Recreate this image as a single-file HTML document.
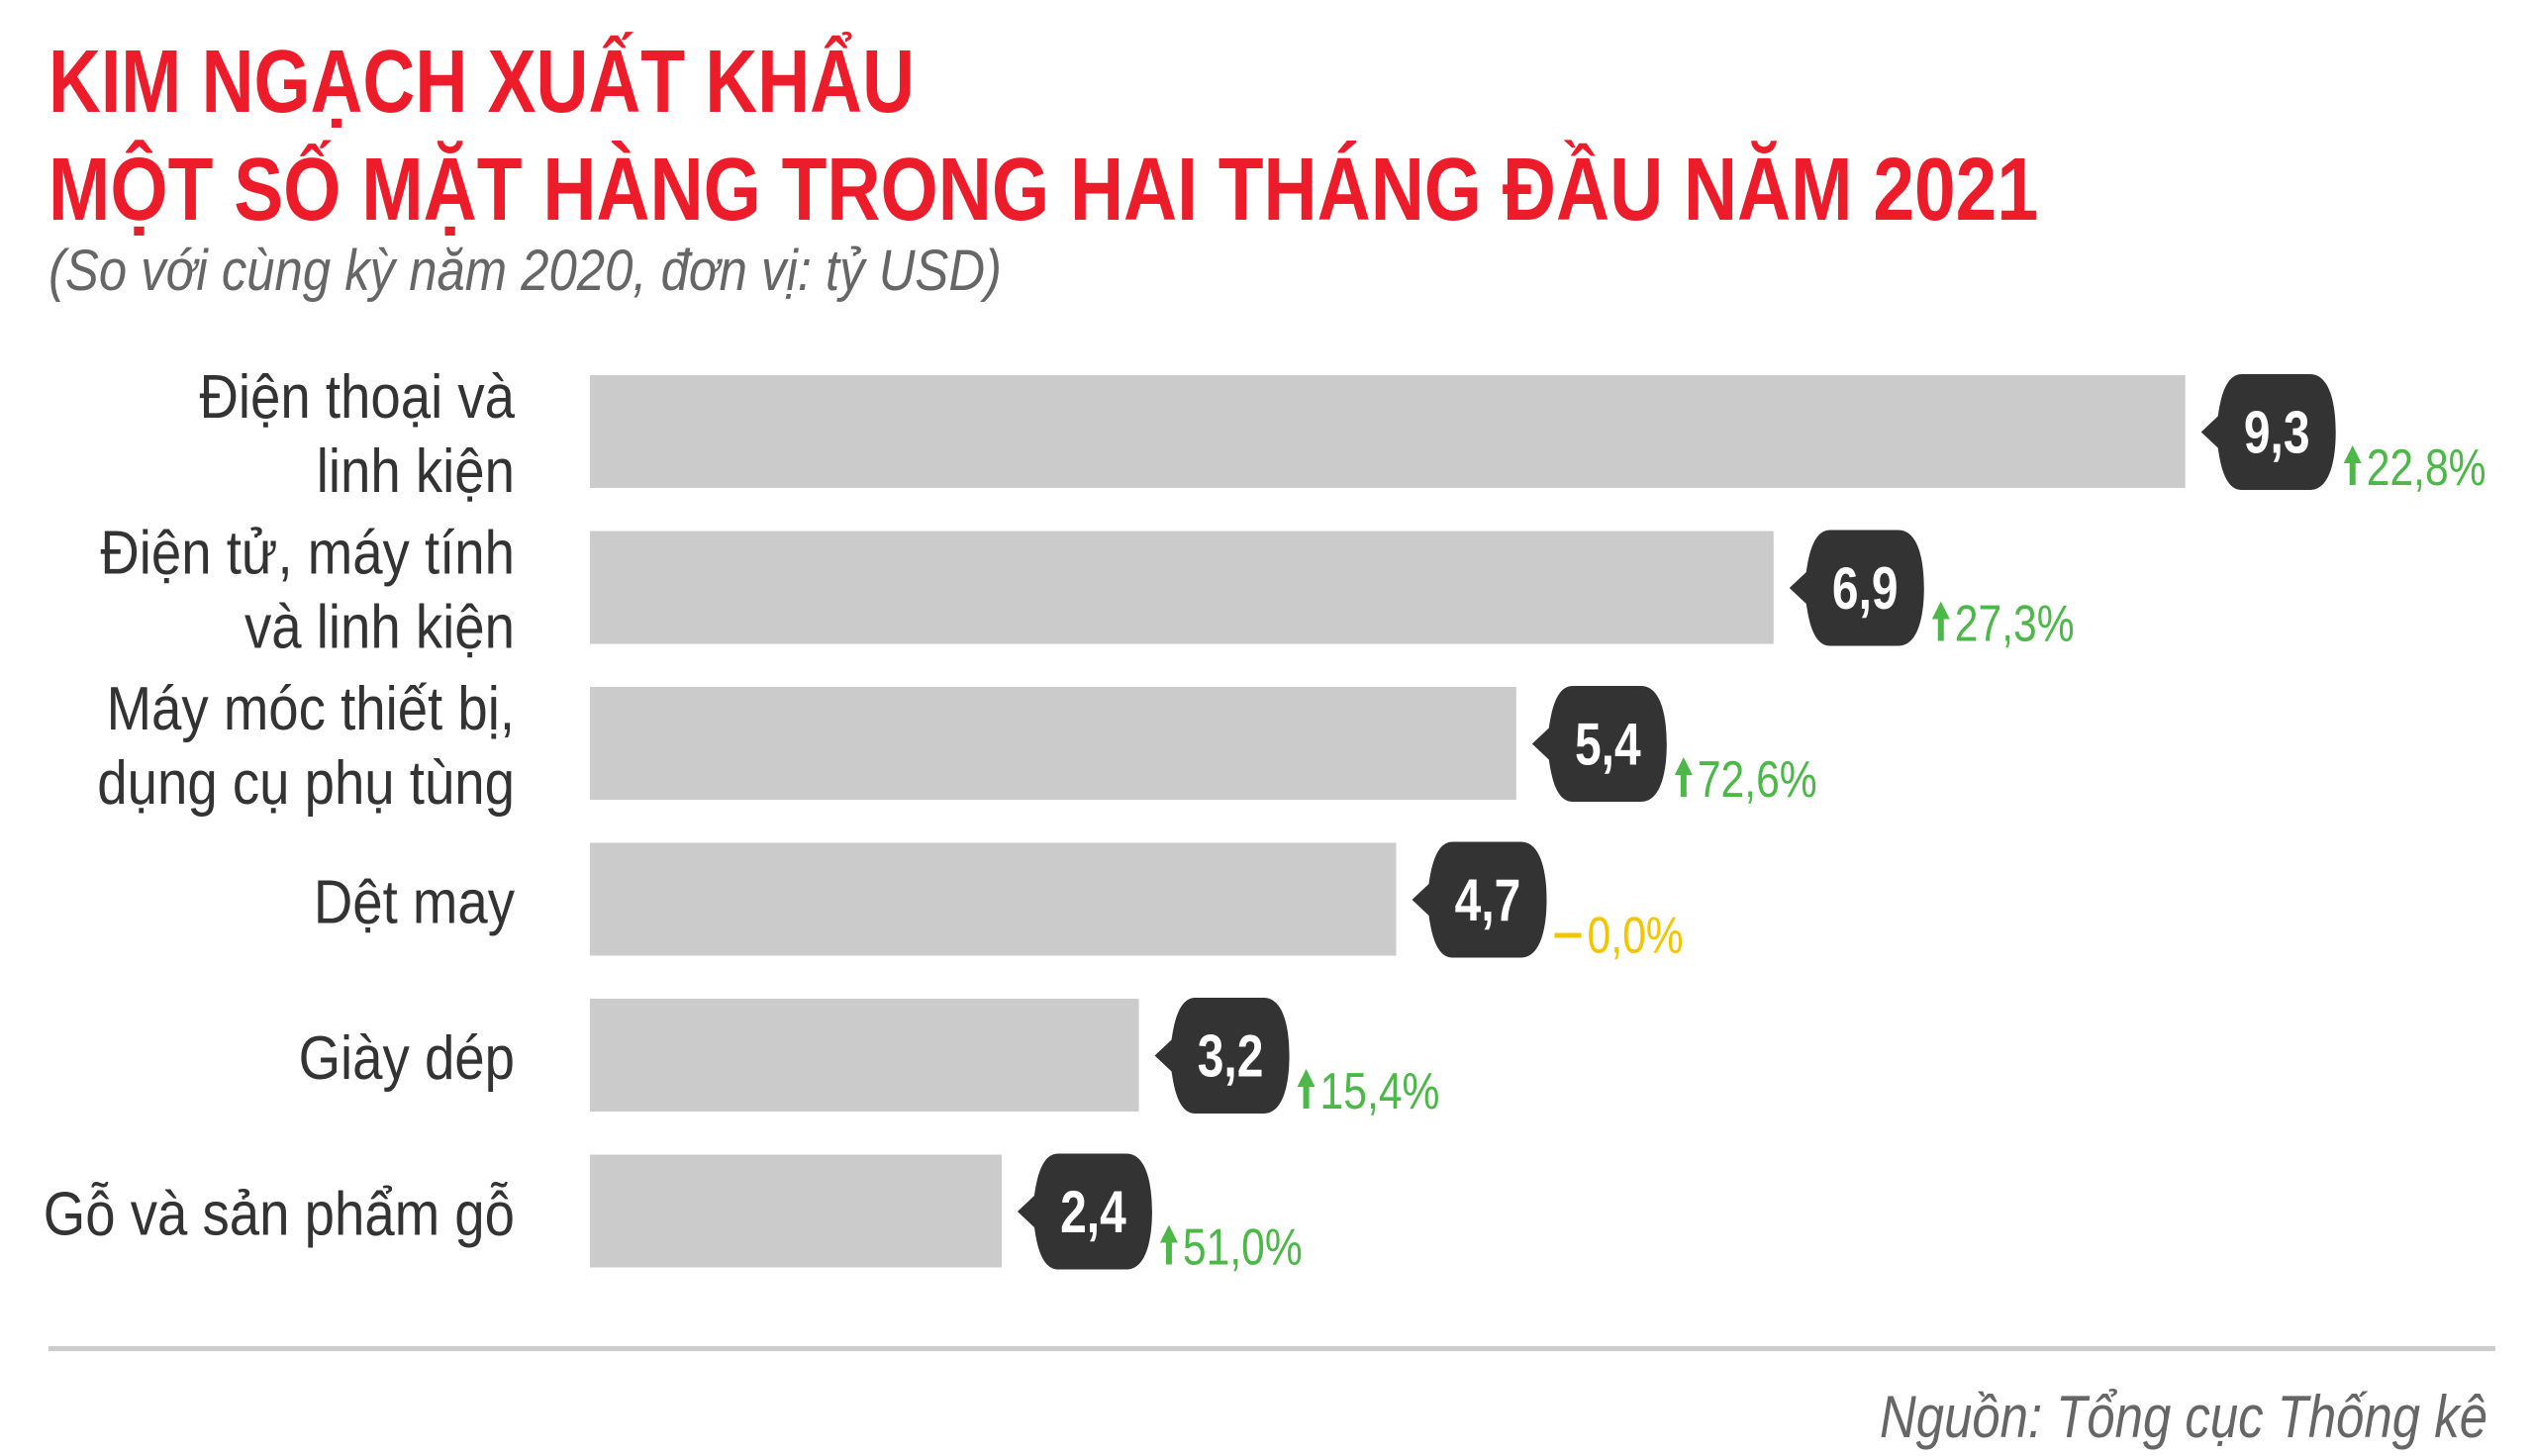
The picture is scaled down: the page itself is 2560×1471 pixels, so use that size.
<!DOCTYPE html>
<html><head><meta charset="utf-8">
<style>
html,body{margin:0;padding:0;background:#fff;}
svg{display:block;font-family:"Liberation Sans",sans-serif;}
</style></head>
<body>
<svg id="chart" width="2560" height="1471" viewBox="0 0 2560 1471" xmlns="http://www.w3.org/2000/svg">
  <text x="49" y="113" font-size="90" font-weight="bold" fill="#ec1c2b" textLength="875" lengthAdjust="spacingAndGlyphs">KIM NGẠCH XUẤT KHẨU</text>
  <text x="49" y="222" font-size="90" font-weight="bold" fill="#ec1c2b" textLength="2010" lengthAdjust="spacingAndGlyphs">MỘT SỐ MẶT HÀNG TRONG HAI THÁNG ĐẦU NĂM 2021</text>
  <text x="49" y="293" font-size="58" font-style="italic" fill="#666" textLength="963" lengthAdjust="spacingAndGlyphs">(So với cùng kỳ năm 2020, đơn vị: tỷ USD)</text>
  <g id="bars"></g>
  <rect x="49" y="1360" width="2472" height="5" fill="#cccccc"/>
  <text x="2513" y="1452" font-size="60" font-style="italic" fill="#666" text-anchor="end" textLength="614" lengthAdjust="spacingAndGlyphs">Nguồn: Tổng cục Thống kê</text>
</svg>
<script>
const categories = [["Điện thoại và","linh kiện"],["Điện tử, máy tính","và linh kiện"],["Máy móc thiết bị,","dụng cụ phụ tùng"],["Dệt may"],["Giày dép"],["Gỗ và sản phẩm gỗ"]];
const values = [9.3, 6.9, 5.4, 4.7, 3.2, 2.4];
const valueLabels = ["9,3","6,9","5,4","4,7","3,2","2,4"];
const changes = [22.8, 27.3, 72.6, 0.0, 15.4, 51.0];
const changeLabels = ["22,8%","27,3%","72,6%","0,0%","15,4%","51,0%"];

const NS = "http://www.w3.org/2000/svg";
const g = document.getElementById('bars');
const x0 = 596, unit = 173.3;
function xScale(v){ return x0 + v*unit; }
function rowTop(i){ return 379 + i*157.5; }
const barH = 114;
function mk(tag, attrs, parent){ const e=document.createElementNS(NS,tag); for(const k in attrs) e.setAttribute(k,attrs[k]); parent.appendChild(e); return e; }
function squeeze(t, f){ const w=t.getComputedTextLength(); t.setAttribute('textLength', (w*f).toFixed(1)); t.setAttribute('lengthAdjust','spacingAndGlyphs'); }

values.forEach((v,i)=>{
  const top = rowTop(i), mid = top+barH/2, end = xScale(v);
  const bar = mk('rect',{x:x0,y:top,width:end-x0,height:barH,fill:'#cbcbcb'},g);
  
  
  const lines = categories[i];
  lines.forEach((ln,j)=>{
    const y = lines.length===1 ? mid+24 : mid-14+j*75;
    const t = mk('text',{x:520,y:y,'font-size':62,fill:'#333','text-anchor':'end'},g);
    t.textContent = ln;
    
    
    squeeze(t,0.88);
  });
  const L = end+33, R = L+117, T = top-1, B = top+barH+2, M = (T+B)/2;
  const d = `M${L+24},${T} H${R-24} C${R-4},${T} ${R+2},${T+30} ${R+2},${M} C${R+2},${B-30} ${R-4},${B} ${R-24},${B} H${L+24} C${L+6},${B} ${L+2},${B-30} ${L},${M+16} L${end+16},${M} L${L},${M-16} C${L+2},${T+30} ${L+6},${T} ${L+24},${T} Z`;
  const bub = mk('path',{d:d,fill:'#333333'},g);
  
  
  const vt = mk('text',{x:(L+R)/2+1,y:M+21,'font-size':60,'font-weight':'bold',fill:'#fff','text-anchor':'middle'},g);
  vt.textContent = valueLabels[i];
  
  
  squeeze(vt,0.8);
  const base = top+barH-3;
  const ax = R+10;
  const col = changes[i] > 0 ? '#4cb848' : '#f5c400';
  if (changes[i] > 0){
    const ar = mk('path',{d:`M${ax+9},${base-40} L${ax+18},${base-22} L${ax+12},${base-22} L${ax+12},${base} L${ax+6},${base} L${ax+6},${base-22} L${ax},${base-22} Z`,fill:col},g);
    
    
  } else {
    const ds = mk('rect',{x:ax,y:base-20,width:27,height:5,fill:col},g);
    
    
  }
  const ct = mk('text',{x:ax+(changes[i]>0?23:33),y:base,'font-size':52,fill:col},g);
  ct.textContent = changeLabels[i];
  
  
  squeeze(ct,0.82);
});
</script>
</body></html>
